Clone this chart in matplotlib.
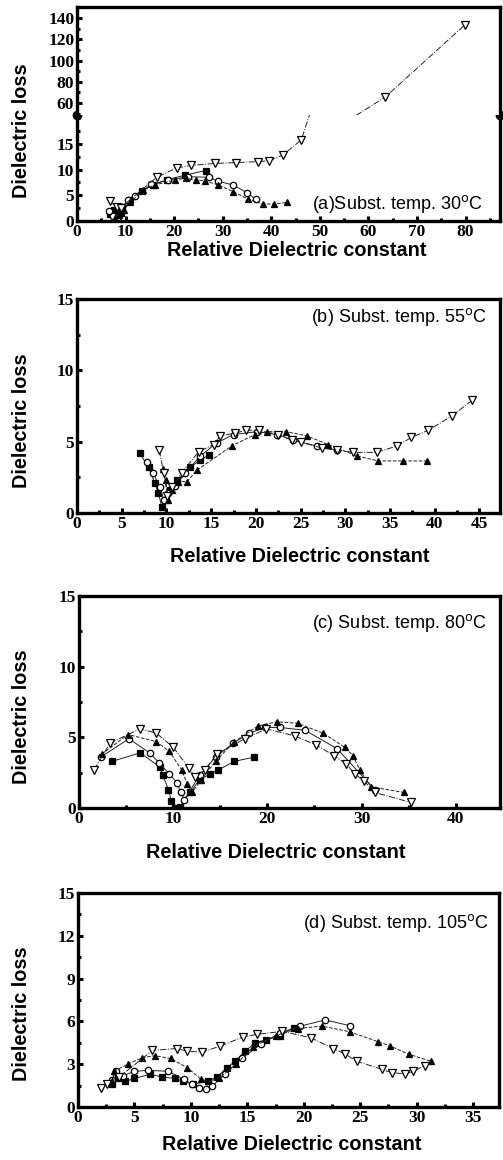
import matplotlib
matplotlib.use("Agg")
import matplotlib.pyplot as plt
from matplotlib.ticker import MultipleLocator

# ---- data (x = relative dielectric constant, y = dielectric loss)
# (a) substrate 30 C
A_SQ_X = [6.8, 7.6, 8.3, 9.0, 10.9, 13.3, 15.7, 18.5, 22.2, 26.5]
A_SQ_Y = [1.4, 2.2, 0.6, 1.5, 4.0, 5.9, 7.0, 8.0, 8.9, 9.8]
A_CI_X = [6.5, 7.4, 8.4, 9.3, 10.6, 12.0, 15.3, 18.8, 22.9, 27.2, 29.1, 32.2, 35.0, 36.8]
A_CI_Y = [2.0, 1.0, 0.8, 2.8, 4.0, 4.8, 7.1, 8.0, 8.6, 8.5, 7.7, 7.0, 5.5, 4.2]
A_TU_X = [7.9, 8.6, 9.6, 11.0, 13.6, 16.0, 20.2, 22.5, 24.6, 26.3, 29.1, 32.2, 35.3, 38.3, 40.5, 43.3]
A_TU_Y = [0.5, 1.2, 2.2, 3.6, 6.0, 7.0, 8.0, 8.3, 8.0, 7.8, 7.0, 5.7, 4.2, 3.3, 3.3, 3.6]
A_TD_X = [6.7, 8.3, 9.0, 16.4, 20.5, 23.5, 28.5, 32.8, 37.3, 39.5, 42.4, 46.2, 63.5, 79.9]
A_TD_Y = [3.8, 2.7, 2.6, 8.5, 10.3, 10.8, 11.2, 11.35, 11.55, 11.7, 12.8, 15.8, 65.7, 133.7]

# (b) substrate 55 C
B_SQ_X = [7.0, 8.0, 8.7, 9.1, 9.5, 9.9, 10.4, 11.2, 12.6, 13.8, 14.8]
B_SQ_Y = [4.2, 3.2, 2.1, 1.4, 0.4, 0.9, 1.6, 2.3, 3.2, 3.7, 4.1]
B_CI_X = [7.8, 8.5, 9.3, 9.7, 10.2, 11.0, 12.1, 13.8, 15.6, 17.5, 20.1, 22.4, 24.2, 26.8, 29.1]
B_CI_Y = [3.6, 2.8, 1.8, 0.9, 1.4, 1.9, 2.8, 4.0, 4.9, 5.5, 5.7, 5.5, 5.1, 4.7, 4.4]
B_TU_X = [9.6, 9.9, 10.2, 10.6, 11.3, 12.3, 13.4, 17.3, 19.9, 21.2, 23.4, 25.7, 28.1, 31.3, 33.7, 36.4, 39.1]
B_TU_Y = [3.1, 2.3, 0.9, 1.6, 2.2, 2.2, 3.0, 4.7, 5.5, 5.7, 5.7, 5.4, 4.8, 4.0, 3.65, 3.65, 3.65]
B_TD_X = [9.2, 9.7, 10.1, 10.6, 11.7, 13.6, 15.3, 16.0, 17.7, 18.9, 20.3, 22.5, 24.0, 25.1,
          27.4, 29.1, 30.9, 33.5, 35.8, 37.4, 39.3, 41.9, 44.2]
B_TD_Y = [4.4, 2.8, 1.2, 1.8, 2.8, 4.3, 4.8, 5.4, 5.6, 5.8, 5.8, 5.5, 5.1, 4.95,
          4.55, 4.4, 4.25, 4.25, 4.7, 5.3, 5.8, 6.8, 7.9]

# (c) substrate 80 C
C_SQ_X = [3.5, 6.5, 8.6, 8.9, 9.5, 9.8, 10.2, 10.7, 11.8, 12.8, 13.9, 14.8, 16.5, 18.6]
C_SQ_Y = [3.3, 3.9, 2.9, 2.3, 1.3, 0.5, 0.0, 0.1, 1.1, 2.0, 2.4, 2.7, 3.3, 3.6]
C_CI_X = [2.3, 5.3, 7.5, 8.5, 9.6, 10.4, 10.8, 11.2, 12.8, 14.5, 16.4, 18.1, 19.8, 21.3, 24.0, 27.4, 31.4]
C_CI_Y = [3.6, 4.9, 3.9, 3.2, 2.4, 1.8, 1.1, 0.6, 2.3, 3.6, 4.6, 5.3, 5.7, 5.7, 5.5, 4.2, 1.3]
C_TU_X = [2.4, 5.2, 8.2, 9.6, 10.9, 11.5, 12.0, 13.0, 14.5, 16.5, 19.0, 21.0, 23.2, 25.9,
          28.2, 29.1, 29.8, 31.0, 34.5]
C_TU_Y = [3.8, 5.2, 4.7, 4.0, 2.7, 1.7, 1.1, 2.0, 3.3, 4.7, 5.8, 6.1, 6.0, 5.3,
          4.3, 3.7, 2.7, 1.5, 1.1]
C_TD_X = [1.6, 3.3, 6.5, 8.2, 10.0, 11.7, 12.3, 13.4, 14.6, 17.6, 19.9, 22.9, 25.2, 27.1,
          28.4, 29.3, 30.3, 31.4, 35.2]
C_TD_Y = [2.7, 4.6, 5.6, 5.3, 4.3, 2.8, 2.2, 2.7, 3.8, 4.9, 5.6, 5.1, 4.45, 3.7,
          3.1, 2.4, 1.9, 1.1, 0.4]

# (d) substrate 105 C
D_SQ_X = [3.0, 3.5, 4.2, 5.0, 6.4, 7.4, 8.6, 9.3, 10.2, 11.5, 12.3, 13.2, 13.9, 14.8,
          15.7, 16.7, 17.9, 19.1]
D_SQ_Y = [1.6, 2.0, 1.8, 2.0, 2.3, 2.1, 2.0, 1.8, 1.6, 1.8, 2.1, 2.75, 3.2, 3.9,
          4.5, 4.7, 5.0, 5.56]
D_CI_X = [3.0, 3.4, 4.0, 5.0, 6.2, 8.0, 9.4, 10.1, 10.7, 11.3, 11.9, 13.0, 14.5, 16.2,
          17.9, 19.7, 21.9, 24.1]
D_CI_Y = [1.9, 2.5, 2.2, 2.5, 2.57, 2.5, 1.94, 1.59, 1.31, 1.24, 1.47, 2.3, 3.4, 4.4,
          5.2, 5.67, 6.1, 5.7]
D_TU_X = [3.0, 3.2, 4.4, 5.7, 6.8, 8.2, 9.7, 10.9, 11.5, 12.5, 14.0, 15.5, 17.5, 19.5,
          21.6, 24.1, 26.6, 27.6, 29.3, 31.3]
D_TU_Y = [1.8, 2.5, 3.0, 3.45, 3.6, 3.4, 2.75, 1.94, 1.8, 2.0, 3.0, 4.2, 5.0, 5.5,
          5.67, 5.27, 4.57, 4.3, 3.7, 3.2]
D_TD_X = [2.0, 2.6, 3.65, 6.6, 8.8, 9.7, 11.0, 12.6, 14.6, 15.9, 18.1, 20.6, 22.6, 23.7,
          24.7, 26.9, 27.8, 29.0, 29.7, 30.7]
D_TD_Y = [1.31, 1.63, 2.1, 3.97, 4.1, 3.9, 3.85, 4.27, 4.9, 5.1, 5.3, 4.86, 4.1, 3.7,
          3.2, 2.65, 2.4, 2.33, 2.5, 2.9]

LABELS = ["(a)Subst. temp. 30$^{\\rm o}$C", "(b) Subst. temp. 55$^{\\rm o}$C",
          "(c) Subst. temp. 80$^{\\rm o}$C", "(d) Subst. temp. 105$^{\\rm o}$C"]

SANS = ["Liberation Sans", "DejaVu Sans"]
SERIF = ["Liberation Serif", "DejaVu Serif"]

STY = {  # marker, face, line style, size
    "sq": ("s", "black", "-", 4.2),
    "ci": ("o", "white", "-", 4.6),
    "tu": ("^", "black", "--", 5.0),
    "td": ("v", "white", "-.", 5.4),
}

W, H = 503, 1160
fig = plt.figure(figsize=(W / 100, H / 100), dpi=100)


def box(l, t, r, b):
    return [l / W, 1 - b / H, (r - l) / W, (b - t) / H]


def style(ax, xmaj, xmin, ymaj, ymin):
    for s in ax.spines.values():
        s.set_linewidth(2.4)
    ax.xaxis.set_major_locator(MultipleLocator(xmaj))
    ax.xaxis.set_minor_locator(MultipleLocator(xmin))
    ax.yaxis.set_major_locator(MultipleLocator(ymaj))
    ax.yaxis.set_minor_locator(MultipleLocator(ymin))
    ax.tick_params(which="both", direction="in", width=2.2, top=False, right=False, pad=2)
    ax.tick_params(which="major", length=3.5)
    ax.tick_params(which="minor", length=2.5)
    for t in ax.get_xticklabels() + ax.get_yticklabels():
        t.set_family(SERIF)
        t.set_fontweight("bold")
        t.set_fontsize(12.5)


def draw(ax, series):
    for key, (xs, ys) in series.items():
        m, fc, ls, ms = STY[key]
        ax.plot(xs, ys, ls=ls, lw=0.7, color="#222222", marker=m, ms=ms, mfc=fc,
                mec="black", mew=0.9, zorder=3)


def labels(xc, yc, yl):
    fig.text(xc / W, 1 - yc / H, "Relative Dielectric constant", ha="center", va="center",
             family=SANS, weight="bold", fontsize=14.3)
    fig.text(22 / W, 1 - yl / H, "Dielectric loss", ha="center", va="center", rotation=90,
             family=SANS, weight="bold", fontsize=14.3)


# ---- (a): broken y axis
axl = fig.add_axes(box(77, 115, 500, 221))
axu = fig.add_axes(box(77, 7, 500, 115), sharex=axl)
sa = {"sq": (A_SQ_X, A_SQ_Y), "ci": (A_CI_X, A_CI_Y), "tu": (A_TU_X, A_TU_Y), "td": (A_TD_X, A_TD_Y)}
draw(axl, sa)
draw(axu, sa)
axl.set_xlim(0, 87.1)
axl.set_ylim(0, 20.6)
axu.set_ylim(48.7, 150.4)
style(axl, 10, 5, 5, 2.5)
style(axu, 10, 5, 20, 10)
axl.spines["top"].set_visible(False)
axu.spines["bottom"].set_visible(False)
axu.tick_params(which="both", bottom=False, labelbottom=False)
axl.set_yticks([0, 5, 10, 15])
axu.set_yticks([60, 80, 100, 120, 140])
for t in axl.get_yticklabels() + axu.get_yticklabels():
    t.set_family(SERIF)
    t.set_fontweight("bold")
    t.set_fontsize(12.5)
for xb in (0, 1):
    axl.plot([xb], [1], "o", color="black", ms=6, transform=axl.transAxes, clip_on=False, zorder=5)
axl.text(0.96, 0.16, LABELS[0], transform=axl.transAxes, ha="right", va="center",
         family=SANS, fontsize=13)
labels(297, 251, 131)

# ---- (b)
axb = fig.add_axes(box(77, 299, 500, 513))
draw(axb, {"sq": (B_SQ_X, B_SQ_Y), "ci": (B_CI_X, B_CI_Y), "tu": (B_TU_X, B_TU_Y), "td": (B_TD_X, B_TD_Y)})
axb.set_xlim(0, 47.3)
axb.set_ylim(0, 15)
style(axb, 5, 2.5, 5, 2.5)
axb.text(0.969, 0.916, LABELS[1], transform=axb.transAxes, ha="right", va="center",
         family=SANS, fontsize=13)
labels(300, 557, 421)

# ---- (c)
axc = fig.add_axes(box(79, 596, 500, 808))
draw(axc, {"sq": (C_SQ_X, C_SQ_Y), "ci": (C_CI_X, C_CI_Y), "tu": (C_TU_X, C_TU_Y), "td": (C_TD_X, C_TD_Y)})
axc.set_xlim(0, 44.7)
axc.set_ylim(0, 15)
style(axc, 10, 5, 5, 2.5)
axc.text(0.969, 0.873, LABELS[2], transform=axc.transAxes, ha="right", va="center",
         family=SANS, fontsize=13)
labels(276, 853, 717)

# ---- (d)
axd = fig.add_axes(box(78, 893, 499, 1107))
draw(axd, {"sq": (D_SQ_X, D_SQ_Y), "ci": (D_CI_X, D_CI_Y), "tu": (D_TU_X, D_TU_Y), "td": (D_TD_X, D_TD_Y)})
axd.set_xlim(0, 37.3)
axd.set_ylim(0, 15)
style(axd, 5, 2.5, 3, 1.5)
axd.text(0.976, 0.86, LABELS[3], transform=axd.transAxes, ha="right", va="center",
         family=SANS, fontsize=13)
labels(292, 1145, 1014)

fig.savefig("out.png", dpi=100)
